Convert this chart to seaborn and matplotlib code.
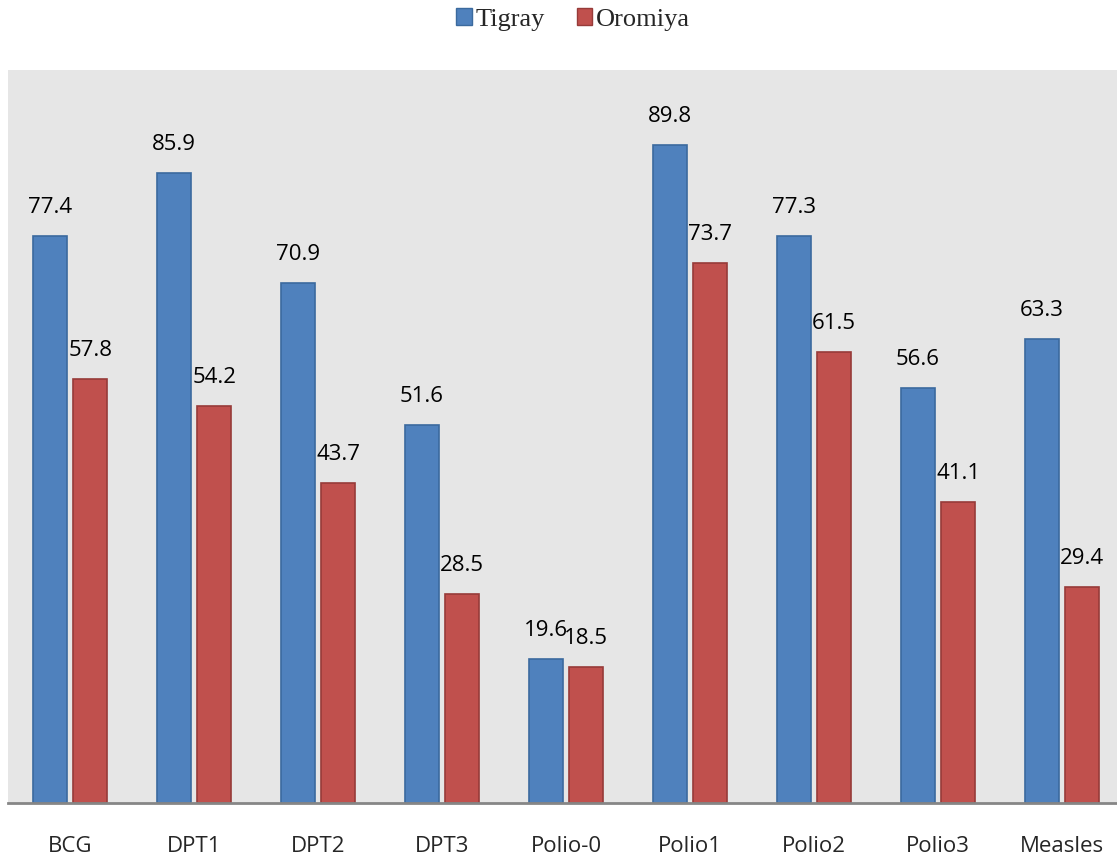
import matplotlib
matplotlib.use("Agg")
import matplotlib.pyplot as plt
import seaborn as sns
import pandas as pd
from matplotlib.patches import Patch

# data
vaccines = ["BCG", "DPT1", "DPT2", "DPT3", "Polio-0", "Polio1", "Polio2", "Polio3", "Measles"]
tigray = [77.4, 85.9, 70.9, 51.6, 19.6, 89.8, 77.3, 56.6, 63.3]
oromiya = [57.8, 54.2, 43.7, 28.5, 18.5, 73.7, 61.5, 41.1, 29.4]
regions = ["Tigray", "Oromiya"]

blue, red = "#4F81BD", "#C0504D"
blue_edge, red_edge = "#3B6A9E", "#973B39"

df = pd.DataFrame({
    "vaccine": vaccines * 2,
    "value": tigray + oromiya,
    "region": ["Tigray"] * len(vaccines) + ["Oromiya"] * len(vaccines),
})

sns.set_style("white")
plt.rcParams["font.family"] = ["Open Sans", "DejaVu Sans"]

fig = plt.figure(figsize=(11.17, 8.58), dpi=100)
ax = fig.add_axes([8 / 1117, 55 / 858, 1116 / 1117, 733 / 858])
ax.set_facecolor("#E6E6E6")

sns.barplot(data=df, x="vaccine", y="value", hue="region", order=vaccines,
            hue_order=regions, palette=[blue, red], width=0.65, gap=0.16,
            ax=ax, legend=False, saturation=1)

for cont, ec in zip(ax.containers, [blue_edge, red_edge]):
    for bar in cont:
        bar.set_edgecolor(ec)
        bar.set_linewidth(1.2)
    ax.bar_label(cont, labels=[f"{v:.1f}" for v in cont.datavalues],
                 padding=13, fontsize=16, color="black")

ax.set_ylim(0, 100)
ax.set_xlim(-0.5, 8.5)
ax.set_xlabel("")
ax.set_ylabel("")
ax.set_yticks([])
ax.tick_params(axis="x", length=0, pad=24, labelsize=16)
for s in ["top", "right", "left"]:
    ax.spines[s].set_visible(False)
ax.spines["bottom"].set_color("#868686")
ax.spines["bottom"].set_linewidth(2)

handles = [Patch(facecolor=blue, edgecolor=blue_edge), Patch(facecolor=red, edgecolor=red_edge)]
fig.legend(handles, regions, loc="center", bbox_to_anchor=(0.513, 0.977), ncol=2,
           frameon=False, prop={"family": "Liberation Serif", "size": 19},
           handlelength=0.6, handleheight=0.6, handletextpad=0.15, columnspacing=1.2)

fig.savefig("out.png", dpi=100)
